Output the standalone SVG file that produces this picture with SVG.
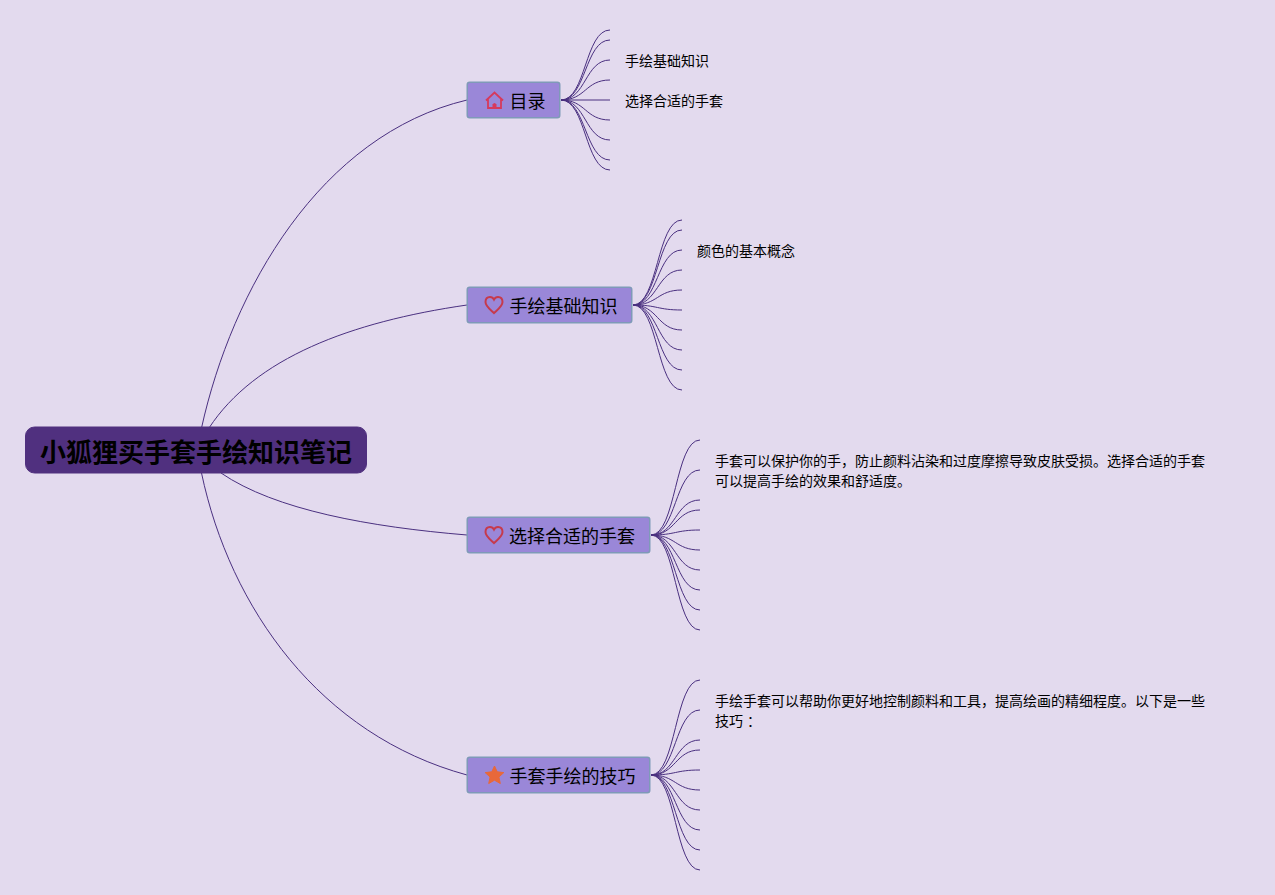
<svg xmlns="http://www.w3.org/2000/svg" width="1275" height="895" viewBox="0 0 1275 895">
<style>
text{font-family:"Noto Sans CJK SC","Noto Sans",sans-serif;fill:#000}
.root-box{fill:#50307f;stroke:#50307f}
.box{fill:#9a87d8;stroke:#7f9ab8;stroke-width:1.500}
.rootT{font-size:26px;font-weight:700}
.nodeT{font-size:18px}
.leafT{font-size:14px}
.c{fill:none;stroke:#4a3080;stroke-width:1}
.heart{fill:none;stroke:#c63a4c;stroke-width:2}
</style>
<defs>
<path id="heart" d="M0,8 C-3,5 -8.500,1.500 -8.500,-3 C-8.500,-6.500 -6.500,-8 -4,-8 C-2,-8 -0.800,-7 0,-5.500 C0.800,-7 2,-8 4,-8 C6.500,-8 8.500,-6.500 8.500,-3 C8.500,1.500 3,5 0,8 Z"/>
</defs>
<rect width="1275" height="895" fill="#e3daee"/>
<g id="connectors">
<path class="c" d="M201.500,428 C232,290 320,135 467,100"/>
<path class="c" d="M209,428 C255,358 350,322 467,305"/>
<path class="c" d="M221,473 C275,510 370,527 467,535"/>
<path class="c" d="M201.500,473 C230,608 320,735 467,775"/>
<path class="c" d="M561,100 C586,100 585,30 610,30M561,100 C586,100 585,40 610,40M561,100 C586,100 585,60 610,60M561,100 C586,100 585,80 610,80M561,100 H610M561,100 C586,100 585,120 610,120M561,100 C586,100 585,140 610,140M561,100 C586,100 585,160 610,160M561,100 C586,100 585,170 610,170"/>
<path class="c" d="M633,305 C658,305 657,220 682,220M633,305 C658,305 657,230 682,230M633,305 C658,305 657,250 682,250M633,305 C658,305 657,270 682,270M633,305 C658,305 657,290 682,290M633,305 C658,305 657,310 682,310M633,305 C658,305 657,330 682,330M633,305 C658,305 657,350 682,350M633,305 C658,305 657,370 682,370M633,305 C658,305 657,390 682,390"/>
<path class="c" d="M651,535 C676,535 675,440 700,440M651,535 C676,535 675,470 700,470M651,535 C676,535 675,500 700,500M651,535 C676,535 675,510 700,510M651,535 C676,535 675,530 700,530M651,535 C676,535 675,550 700,550M651,535 C676,535 675,570 700,570M651,535 C676,535 675,590 700,590M651,535 C676,535 675,610 700,610M651,535 C676,535 675,630 700,630"/>
<path class="c" d="M651,775 C676,775 675,680 700,680M651,775 C676,775 675,710 700,710M651,775 C676,775 675,740 700,740M651,775 C676,775 675,750 700,750M651,775 C676,775 675,770 700,770M651,775 C676,775 675,790 700,790M651,775 C676,775 675,810 700,810M651,775 C676,775 675,830 700,830M651,775 C676,775 675,850 700,850M651,775 C676,775 675,870 700,870"/>
</g>
<g id="root">
<rect class="root-box" x="25.500" y="427" width="341" height="46" rx="9"/>
<text class="rootT" x="40" y="462">小狐狸买手套手绘知识笔记</text>
</g>
<g id="node-toc">
<rect class="box" x="467.250" y="82.250" width="92.500" height="35.500" rx="2.500"/>
<path d="M486,100.500 L494.500,92.500 L503,100.500 M488,98.500 V108 H501 V98.500" fill="none" stroke="#d63a5c" stroke-width="1.800"/>
<path d="M492.500,108 V104.500 Q494.500,101.500 496.500,104.500 V108 Z" fill="#d63a5c"/>
<text class="nodeT" x="509.500" y="107.500">目录</text>
</g>
<g id="node-basics">
<rect class="box" x="467.250" y="287.250" width="164.500" height="35.500" rx="2.500"/>
<use href="#heart" class="heart" x="494" y="305"/>
<text class="nodeT" x="509.500" y="312.500">手绘基础知识</text>
</g>
<g id="node-choose">
<rect class="box" x="467.250" y="517.250" width="182.500" height="35.500" rx="2.500"/>
<use href="#heart" class="heart" x="494" y="535"/>
<text class="nodeT" x="509" y="542.500">选择合适的手套</text>
</g>
<g id="node-tips">
<rect class="box" x="467.250" y="757.250" width="182.500" height="35.500" rx="2.500"/>
<path d="M494.500,766 L497.200,771.800 L503.800,772.600 L498.900,777 L500.300,783.500 L494.500,780.200 L488.700,783.500 L490.100,777 L485.200,772.600 L491.800,771.800 Z" fill="#e8683a" stroke="#e8683a" stroke-linejoin="round"/>
<text class="nodeT" x="509.500" y="782.500">手套手绘的技巧</text>
</g>
<g id="leaf-toc-1"><text class="leafT" x="625" y="66">手绘基础知识</text></g>
<g id="leaf-toc-2"><text class="leafT" x="625" y="106">选择合适的手套</text></g>
<g id="leaf-basics-1"><text class="leafT" x="697" y="256">颜色的基本概念</text></g>
<g id="leaf-choose-1"><text class="leafT" x="715" y="466">手套可以保护你的手，防止颜料沾染和过度摩擦导致皮肤受损。选择合适的手套</text><text class="leafT" x="715" y="486">可以提高手绘的效果和舒适度。</text></g>
<g id="leaf-tips-1"><text class="leafT" x="715" y="706">手绘手套可以帮助你更好地控制颜料和工具，提高绘画的精细程度。以下是一些</text><text class="leafT" x="715" y="726">技巧<tspan dx="4">：</tspan></text></g>
</svg>
